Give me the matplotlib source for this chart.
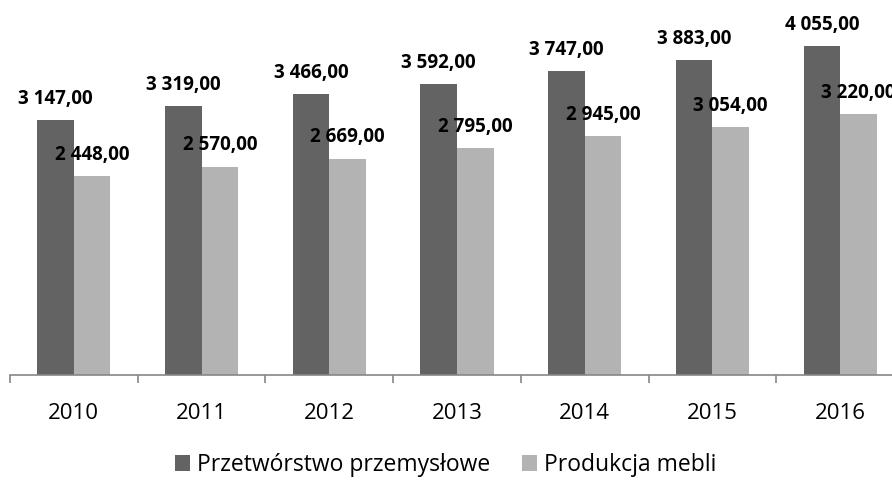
import matplotlib.pyplot as plt
import numpy as np

years = ['2010', '2011', '2012', '2013', '2014', '2015', '2016']
przetworstwo = [3147, 3319, 3466, 3592, 3747, 3883, 4055]
meble = [2448, 2570, 2669, 2795, 2945, 3054, 3220]
series_names = ['Przetwórstwo przemysłowe', 'Produkcja mebli']

plt.rcParams['font.family'] = ['Open Sans', 'DejaVu Sans']

fig = plt.figure(figsize=(8.92, 4.8), dpi=100)
# axes runs a little past the right edge like in the source
ax = fig.add_axes([10 / 892, 105 / 480, 894 / 892, 365 / 480])

x = np.arange(len(years))
w = 0.286
dark = '#636363'
light = '#b3b3b3'

b1 = ax.bar(x - w / 2, przetworstwo, w, color=dark, label=series_names[0])
b2 = ax.bar(x + w / 2, meble, w, color=light, label=series_names[1])

def fmt(v):
    return '{:,.2f}'.format(v).replace(',', ' ').replace('.', ',')

for bars, vals in ((b1, przetworstwo), (b2, meble)):
    for r, v in zip(bars, vals):
        ax.annotate(fmt(v), (r.get_x() + r.get_width() / 2, v),
                    xytext=(0, 8), textcoords='offset points',
                    ha='center', va='bottom', fontsize=13.5, fontweight='bold',
                    annotation_clip=False)

ax.set_xlim(-0.5, len(years) - 0.5)
ax.set_ylim(0, 4500)

for s in ['top', 'right', 'left']:
    ax.spines[s].set_visible(False)
ax.spines['bottom'].set_color('#868686')
ax.spines['bottom'].set_linewidth(1.2)

ax.set_yticks([])
ax.set_xticks(x)
ax.set_xticklabels(years, fontsize=16)
ax.tick_params(axis='x', which='major', length=0, pad=20)
ax.set_xticks(np.arange(-0.5, len(years), 1), minor=True)
ax.tick_params(axis='x', which='minor', length=6, width=1.2, color='#868686', direction='out')

fig.legend(handles=[b1, b2], loc='center', bbox_to_anchor=(0.5, 15 / 480),
           ncol=2, frameon=False, fontsize=16.5, handlelength=0.65, handleheight=0.65,
           handletextpad=0.3, columnspacing=1.4)

plt.savefig('out.png', dpi=100)
